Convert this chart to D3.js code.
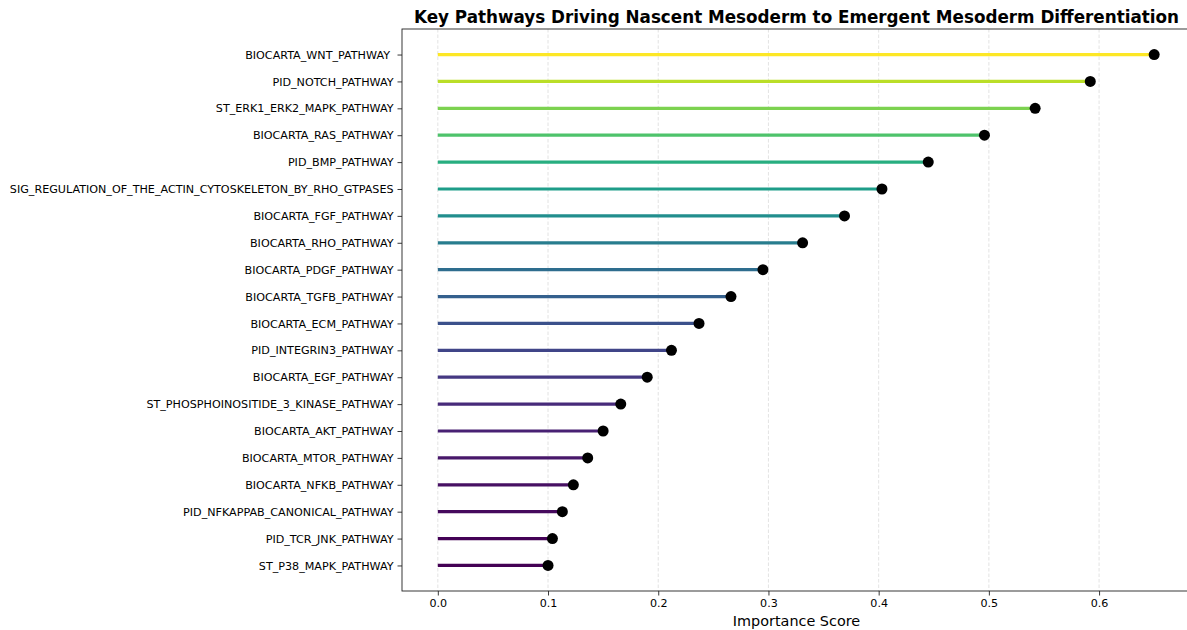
<!DOCTYPE html>
<html>
<head>
<meta charset="utf-8">
<script src="https://cdn.jsdelivr.net/npm/d3@7"></script>
<style>
  html, body { margin: 0; padding: 0; background: #fff; }
  svg { display: block; font-family: "DejaVu Sans", sans-serif; }
  .ylab text { white-space: pre; }
</style>
</head>
<body>
<svg id="chart" width="1187" height="630"></svg>
<script>
const pathways = [
  "BIOCARTA_WNT_PATHWAY ",
  "PID_NOTCH_PATHWAY",
  "ST_ERK1_ERK2_MAPK_PATHWAY",
  "BIOCARTA_RAS_PATHWAY",
  "PID_BMP_PATHWAY",
  "SIG_REGULATION_OF_THE_ACTIN_CYTOSKELETON_BY_RHO_GTPASES",
  "BIOCARTA_FGF_PATHWAY",
  "BIOCARTA_RHO_PATHWAY",
  "BIOCARTA_PDGF_PATHWAY",
  "BIOCARTA_TGFB_PATHWAY",
  "BIOCARTA_ECM_PATHWAY",
  "PID_INTEGRIN3_PATHWAY",
  "BIOCARTA_EGF_PATHWAY",
  "ST_PHOSPHOINOSITIDE_3_KINASE_PATHWAY",
  "BIOCARTA_AKT_PATHWAY",
  "BIOCARTA_MTOR_PATHWAY",
  "BIOCARTA_NFKB_PATHWAY",
  "PID_NFKAPPAB_CANONICAL_PATHWAY",
  "PID_TCR_JNK_PATHWAY",
  "ST_P38_MAPK_PATHWAY"
];
const scores = [0.650, 0.592, 0.542, 0.496, 0.445, 0.403, 0.369, 0.331, 0.295, 0.266,
                0.237, 0.212, 0.190, 0.166, 0.150, 0.136, 0.123, 0.113, 0.104, 0.100];
const xTicks = [0.0, 0.1, 0.2, 0.3, 0.4, 0.5, 0.6];
const titleText = "Key Pathways Driving Nascent Mesoderm to Emergent Mesoderm Differentiation";
const xLabelText = "Importance Score";

(function () {
const svg = d3.select("#chart");
const mLeft = 402, mRight = 1190, mTop = 29, mBottom = 591;

const n = pathways.length;
const x = d3.scaleLinear().domain([-0.0325, 0.6825]).range([mLeft, mRight]);
const y = d3.scaleLinear().domain([-0.95, n - 1 + 0.95]).range([mTop, mBottom]);

const vmin = d3.min(scores), vmax = d3.max(scores);
const color = d3.scaleSequential(d3.interpolateViridis).domain([vmin, vmax]);

// grid
svg.append("g").selectAll("line").data(xTicks).join("line")
  .attr("x1", d => x(d)).attr("x2", d => x(d))
  .attr("y1", mTop).attr("y2", mBottom)
  .attr("stroke", "#b0b0b0").attr("stroke-opacity", 0.45)
  .attr("stroke-width", 0.8).attr("stroke-dasharray", "3.5,2");

const data = pathways.map((p, i) => ({p, v: scores[i], i}));

// stems
svg.append("g").selectAll("line").data(data).join("line")
  .attr("x1", x(0)).attr("x2", d => x(d.v))
  .attr("y1", d => y(d.i)).attr("y2", d => y(d.i))
  .attr("stroke", d => color(d.v)).attr("stroke-width", 3.2).attr("stroke-opacity", 1);

// dots
svg.append("g").selectAll("circle").data(data).join("circle")
  .attr("cx", d => x(d.v)).attr("cy", d => y(d.i)).attr("r", 5.5)
  .attr("fill", "#000");

// spines
svg.append("rect").attr("x", mLeft).attr("y", mTop)
  .attr("width", mRight - mLeft).attr("height", mBottom - mTop)
  .attr("fill", "none").attr("stroke", "#222").attr("stroke-width", 0.9);

// x axis
const xAxis = d3.axisBottom(x).tickValues(xTicks).tickFormat(d3.format(".1f"))
  .tickSize(4.5).tickPadding(4);
const gx = svg.append("g").attr("transform", `translate(0,${mBottom})`).call(xAxis);
gx.select(".domain").remove();
gx.selectAll("line").attr("stroke", "#222").attr("stroke-width", 0.9);
gx.selectAll("text").attr("font-size", "11.1px").attr("fill", "#000")
  .attr("font-family", "DejaVu Sans, sans-serif");

// y axis
const yAxis = d3.axisLeft(y).tickValues(d3.range(n)).tickFormat(i => pathways[i])
  .tickSize(4.5).tickPadding(4);
const gy = svg.append("g").attr("class", "ylab").attr("transform", `translate(${mLeft},0)`).call(yAxis);
gy.select(".domain").remove();
gy.selectAll("line").attr("stroke", "#222").attr("stroke-width", 0.9);
gy.selectAll("text").attr("font-size", "11.15px").attr("fill", "#000")
  .attr("font-family", "DejaVu Sans, sans-serif");

// title
svg.append("text").attr("x", 796.5).attr("y", 23)
  .attr("text-anchor", "middle").attr("font-weight", "bold").attr("font-size", "16.8px")
  .attr("fill", "#000").text(titleText);

// x label
svg.append("text").attr("x", 796.5).attr("y", 626)
  .attr("text-anchor", "middle").attr("font-size", "14.4px")
  .attr("fill", "#000").text(xLabelText);
})();
</script>
</body>
</html>
